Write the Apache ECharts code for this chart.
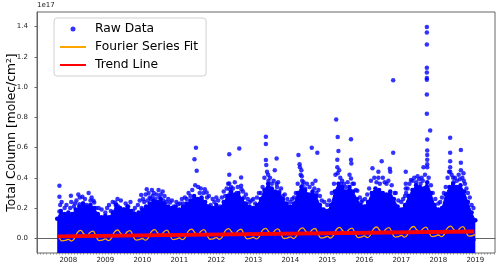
<!DOCTYPE html>
<html><head><meta charset="utf-8">
<script src="https://cdn.jsdelivr.net/npm/echarts@6/dist/echarts.min.js"></script>
<style>html,body{margin:0;padding:0;background:#fff}#c{width:500px;height:268px}</style>
</head><body><div id="c"></div>
<script>
// ---- tick labels ----
const yearTicks = [2008, 2009, 2010, 2011, 2012, 2013, 2014, 2015, 2016, 2017, 2018, 2019];
const yTickVals = [0, 0.2, 0.4, 0.6, 0.8, 1.0, 1.2, 1.4];

// ---- raw data: isolated points above the dense cloud (x: decimal year, y: 1e17 molec/cm2) ----
const rawT = [
  2007.76, 2007.76, 2007.76, 2007.78, 2007.90, 2008.07, 2008.08, 2008.15, 2008.22, 2008.30, 2008.31, 2008.38, 2008.40, 2008.50, 2008.60, 2008.68, 2008.70, 2008.75,
  2009.00, 2009.15, 2009.27, 2009.28, 2009.30, 2009.35, 2009.50, 2009.60, 2009.62, 2009.75, 2009.97, 2009.98,
  2010.05, 2010.12, 2010.14, 2010.20, 2010.26, 2010.28, 2010.35, 2010.44, 2010.46, 2010.55, 2010.57, 2010.65, 2010.75, 2010.85, 2010.97,
  2011.10, 2011.20, 2011.30, 2011.41, 2011.45, 2011.47, 2011.51, 2011.55, 2011.60, 2011.69, 2011.74, 2011.75, 2011.85,
  2012.00, 2012.10, 2012.24, 2012.35, 2012.35, 2012.35, 2012.36, 2012.36, 2012.45, 2012.55, 2012.62, 2012.67, 2012.67, 2012.68, 2012.75, 2012.90,
  2013.05, 2013.20, 2013.34, 2013.34, 2013.34, 2013.35, 2013.40, 2013.41, 2013.50, 2013.63, 2013.63, 2013.64, 2013.70, 2013.80,
  2014.00, 2014.10, 2014.22, 2014.25, 2014.26, 2014.30, 2014.31, 2014.32, 2014.33, 2014.40, 2014.58, 2014.65, 2014.71, 2014.73, 2014.85,
  2015.00, 2015.24, 2015.28, 2015.30, 2015.27, 2015.27, 2015.28, 2015.35, 2015.36, 2015.50, 2015.64, 2015.64, 2015.65, 2015.64, 2015.68, 2015.81, 2015.95,
  2016.22, 2016.38, 2016.38, 2016.47, 2016.55, 2016.69, 2016.70, 2016.78, 2016.78, 2016.85,
  2017.00, 2017.12, 2017.12, 2017.12, 2017.13, 2017.26, 2017.44, 2017.55, 2017.60,
  2017.69, 2017.69, 2017.69, 2017.69, 2017.69, 2017.69, 2017.69, 2017.69, 2017.69,
  2017.70, 2017.70, 2017.70, 2017.70, 2017.70, 2017.70, 2017.78, 2017.85,
  2018.00, 2018.15, 2018.32, 2018.32, 2018.32, 2018.32, 2018.32, 2018.40, 2018.41, 2018.50, 2018.61, 2018.61, 2018.61, 2018.68, 2018.69, 2018.80, 2018.90
];
const rawV = [
  0.347, 0.275, 0.178, 0.22, 0.20, 0.281, 0.24, 0.21, 0.25, 0.226, 0.27, 0.275, 0.23, 0.22, 0.25, 0.248, 0.237, 0.20,
  0.17, 0.18, 0.237, 0.22, 0.20, 0.21, 0.19, 0.19, 0.21, 0.18, 0.286, 0.20,
  0.24, 0.325, 0.25, 0.27, 0.319, 0.28, 0.26, 0.319, 0.27, 0.31, 0.25, 0.24, 0.237, 0.21, 0.226,
  0.23, 0.26, 0.28, 0.523, 0.598, 0.446, 0.34, 0.30, 0.26, 0.325, 0.303, 0.27, 0.22,
  0.27, 0.21, 0.28, 0.556, 0.42, 0.363, 0.325, 0.292, 0.33, 0.30, 0.594, 0.402, 0.347, 0.325, 0.27, 0.24,
  0.23, 0.30, 0.671, 0.623, 0.517, 0.484, 0.42, 0.38, 0.36, 0.528, 0.36, 0.34, 0.31, 0.28,
  0.24, 0.27, 0.55, 0.49, 0.47, 0.45, 0.41, 0.38, 0.35, 0.33, 0.598, 0.33, 0.30, 0.565, 0.25,
  0.22, 0.785, 0.67, 0.578, 0.52, 0.47, 0.43, 0.40, 0.36, 0.34, 0.655, 0.52, 0.495, 0.396, 0.36, 0.315, 0.25,
  0.464, 0.44, 0.40, 0.51, 0.37, 0.46, 0.44, 1.045, 0.565, 0.30,
  0.24, 0.44, 0.36, 0.33, 0.30, 0.385, 0.41, 0.40, 0.47,
  1.397, 1.360, 1.282, 1.127, 1.096, 1.060, 1.049, 0.950, 0.823,
  0.653, 0.58, 0.55, 0.52, 0.49, 0.47, 0.713, 0.30,
  0.23, 0.30, 0.664, 0.565, 0.51, 0.47, 0.44, 0.40, 0.37, 0.38, 0.583, 0.50, 0.45, 0.43, 0.38, 0.30, 0.22
];

// ---- raw data: scattered points just above the dense cloud ----
const speckT = [
  2007.82, 2007.95, 2008.05, 2008.18, 2008.27, 2008.45, 2008.55, 2008.63, 2008.82, 2008.90,
  2009.05, 2009.10, 2009.20, 2009.33, 2009.42, 2009.55, 2009.68, 2009.80, 2009.88, 2009.93,
  2010.02, 2010.09, 2010.17, 2010.23, 2010.31, 2010.39, 2010.50, 2010.60, 2010.70, 2010.80, 2010.92,
  2011.02, 2011.07, 2011.15, 2011.25, 2011.35, 2011.43, 2011.58, 2011.65, 2011.80, 2011.90, 2011.95,
  2012.05, 2012.15, 2012.20, 2012.28, 2012.32, 2012.40, 2012.50, 2012.58, 2012.72, 2012.80, 2012.85, 2012.95,
  2013.00, 2013.10, 2013.15, 2013.25, 2013.30, 2013.37, 2013.45, 2013.55, 2013.58, 2013.67, 2013.75, 2013.85, 2013.92,
  2014.05, 2014.15, 2014.20, 2014.28, 2014.36, 2014.45, 2014.52, 2014.60, 2014.68, 2014.76, 2014.80, 2014.92,
  2015.05, 2015.12, 2015.18, 2015.22, 2015.32, 2015.40, 2015.45, 2015.55, 2015.60, 2015.72, 2015.77, 2015.88, 2015.92,
  2016.02, 2016.08, 2016.13, 2016.18, 2016.27, 2016.33, 2016.42, 2016.50, 2016.60, 2016.65, 2016.74, 2016.82, 2016.92,
  2017.05, 2017.10, 2017.17, 2017.22, 2017.30, 2017.35, 2017.40, 2017.48, 2017.52, 2017.58, 2017.64, 2017.74, 2017.80, 2017.92,
  2018.05, 2018.10, 2018.20, 2018.25, 2018.29, 2018.36, 2018.45, 2018.55, 2018.58, 2018.65, 2018.72, 2018.76, 2018.85, 2018.95
];
const speckV = [
  0.24, 0.22, 0.20, 0.23, 0.29, 0.26, 0.30, 0.27, 0.20, 0.19,
  0.20, 0.22, 0.24, 0.26, 0.25, 0.23, 0.24, 0.20, 0.22, 0.25,
  0.26, 0.29, 0.30, 0.26, 0.30, 0.29, 0.29, 0.28, 0.26, 0.25, 0.24,
  0.23, 0.26, 0.27, 0.30, 0.32, 0.35, 0.33, 0.30, 0.28, 0.26, 0.24,
  0.25, 0.27, 0.31, 0.33, 0.36, 0.34, 0.37, 0.34, 0.31, 0.29, 0.26, 0.25,
  0.26, 0.27, 0.30, 0.34, 0.40, 0.44, 0.40, 0.38, 0.45, 0.37, 0.33, 0.29, 0.26,
  0.26, 0.30, 0.36, 0.42, 0.37, 0.36, 0.34, 0.36, 0.38, 0.32, 0.28, 0.24,
  0.25, 0.30, 0.36, 0.42, 0.45, 0.38, 0.36, 0.37, 0.42, 0.36, 0.32, 0.27, 0.24,
  0.26, 0.29, 0.33, 0.38, 0.40, 0.37, 0.36, 0.40, 0.36, 0.38, 0.35, 0.30, 0.25,
  0.26, 0.28, 0.33, 0.36, 0.38, 0.40, 0.37, 0.39, 0.36, 0.38, 0.42, 0.40, 0.35, 0.26,
  0.24, 0.27, 0.34, 0.40, 0.44, 0.42, 0.40, 0.42, 0.39, 0.40, 0.36, 0.33, 0.27, 0.20
];

// ---- raw data: top of the dense (overlapping) cloud, every 0.1 year from 2007.7 ----
const coreStart = 2007.7;
const coreStep = 0.1;
const coreTop = [
  0.13, 0.18, 0.16,
  0.17, 0.16, 0.19, 0.21, 0.23, 0.21, 0.22, 0.20, 0.16, 0.14,
  0.15, 0.14, 0.17, 0.22, 0.20, 0.19, 0.21, 0.18, 0.16, 0.17,
  0.19, 0.21, 0.23, 0.25, 0.24, 0.26, 0.23, 0.21, 0.20, 0.21,
  0.19, 0.21, 0.23, 0.25, 0.28, 0.26, 0.27, 0.24, 0.21, 0.20,
  0.22, 0.20, 0.24, 0.28, 0.31, 0.29, 0.30, 0.26, 0.23, 0.21,
  0.20, 0.22, 0.26, 0.32, 0.36, 0.33, 0.31, 0.30, 0.26, 0.23,
  0.21, 0.23, 0.30, 0.34, 0.32, 0.29, 0.31, 0.28, 0.22, 0.19,
  0.18, 0.22, 0.31, 0.36, 0.34, 0.31, 0.34, 0.31, 0.26, 0.22,
  0.21, 0.24, 0.30, 0.33, 0.32, 0.30, 0.29, 0.31, 0.26, 0.21,
  0.19, 0.22, 0.28, 0.32, 0.35, 0.34, 0.33, 0.37, 0.30, 0.22,
  0.19, 0.20, 0.29, 0.34, 0.36, 0.34, 0.35, 0.31, 0.24, 0.17,
  0.12
];

// ---- Fourier series fit, monthly from 2007.75 ----
const fitStart = 2007.75;
const fitVals = [
  0.011, -0.017, -0.014,
  -0.007, -0.018, -0.001, 0.040, 0.052, 0.030, 0.015, 0.038, 0.048, 0.013, -0.015, -0.012,
  -0.004, -0.015, 0.002, 0.043, 0.055, 0.033, 0.018, 0.041, 0.051, 0.016, -0.012, -0.009,
  -0.001, -0.012, 0.005, 0.046, 0.058, 0.036, 0.021, 0.044, 0.054, 0.019, -0.009, -0.006,
  0.002, -0.009, 0.008, 0.049, 0.061, 0.039, 0.024, 0.047, 0.057, 0.022, -0.006, -0.003,
  0.005, -0.006, 0.011, 0.052, 0.064, 0.042, 0.027, 0.050, 0.060, 0.025, -0.003, 0.000,
  0.007, -0.004, 0.013, 0.054, 0.066, 0.044, 0.029, 0.052, 0.062, 0.027, -0.001, 0.002,
  0.010, -0.001, 0.016, 0.057, 0.069, 0.047, 0.032, 0.055, 0.065, 0.030, 0.002, 0.005,
  0.013, 0.002, 0.019, 0.060, 0.072, 0.050, 0.035, 0.058, 0.068, 0.033, 0.005, 0.008,
  0.016, 0.005, 0.022, 0.063, 0.075, 0.053, 0.038, 0.061, 0.071, 0.036, 0.008, 0.011,
  0.019, 0.008, 0.025, 0.066, 0.078, 0.056, 0.041, 0.064, 0.074, 0.039, 0.011, 0.014,
  0.022, 0.011, 0.028, 0.069, 0.081, 0.059, 0.044, 0.067, 0.077, 0.042, 0.014, 0.017,
  0.024
];

// ---- linear trend ----
const trendT = [2007.72, 2018.97];
const trendV = [0.013, 0.045];

// ---- build series data ----
const X_MIN = 2007.154, X_MAX = 2019.532, Y_MIN = -0.097, Y_MAX = 1.496;
const raw = rawT.map((t, i) => [t, rawV[i]]).concat(speckT.map((t, i) => [t, speckV[i]]));
const core = coreTop.map((v, i) => [+(coreStart + i * coreStep).toFixed(2), v]);
const fit = fitVals.map((v, i) => [fitStart + i / 12, v]);
const trend = trendT.map((t, i) => [t, trendV[i]]);
const monthTicks = [];
for (let y = 2007; y <= 2019; y++) for (let m = 0; m < 12; m++) {
  const t = y + m / 12; if (t > X_MIN && t < X_MAX) monthTicks.push(t);
}

const FONT = 'DejaVu Sans';
const AX = '#666';
const chart = echarts.init(document.getElementById('c'), null, {renderer: 'canvas'});
chart.setOption({
  animation: false,
  grid: {left: 37, right: 5, top: 12, bottom: 15, show: true, borderColor: AX, borderWidth: 1, containLabel: false, outerBoundsMode: 'none'},
  legend: {
    orient: 'vertical', left: 54, top: 18, padding: [4, 8, 4, 5], itemGap: 4,
    itemWidth: 26, itemHeight: 5, selectedMode: false,
    borderColor: '#d0d0d0', borderWidth: 1, borderRadius: 3, backgroundColor: 'rgba(255,255,255,0.85)',
    textStyle: {fontSize: 12.3, fontFamily: FONT, color: '#000', lineHeight: 14, padding: [0, 0, 0, 4]},
    data: [
      {name: 'Raw Data', icon: 'circle'},
      {name: 'Fourier Series Fit', itemStyle: {opacity: 0}},
      {name: 'Trend Line', itemStyle: {opacity: 0}}
    ]
  },
  graphic: [{type: 'text', left: 37, top: 2, style: {text: '1e17', fontSize: 7, fill: '#222', fontFamily: FONT}}],
  xAxis: [{
    type: 'value', min: X_MIN, max: X_MAX,
    axisLine: {show: true, lineStyle: {color: AX, width: 1}},
    axisTick: {show: true, customValues: yearTicks, length: 2.5, lineStyle: {color: AX}},
    axisLabel: {customValues: yearTicks, fontSize: 7, margin: 4, color: '#222', fontFamily: FONT, formatter: v => String(v)},
    splitLine: {show: false}
  }, {
    type: 'value', position: 'bottom', min: X_MIN, max: X_MAX,
    axisLine: {show: false},
    axisTick: {show: true, customValues: monthTicks, length: 1.5, lineStyle: {color: '#888'}},
    axisLabel: {show: false},
    splitLine: {show: false}
  }],
  yAxis: {
    type: 'value', min: Y_MIN, max: Y_MAX,
    name: 'Total Column [molec/cm²]', nameLocation: 'middle', nameRotate: 90, nameGap: 19, nameMoveOverlap: false,
    nameTextStyle: {fontSize: 12.3, fontFamily: FONT, color: '#000'},
    axisLine: {show: true, lineStyle: {color: AX, width: 1}},
    axisTick: {show: true, customValues: yTickVals, length: 2.5, lineStyle: {color: AX}},
    axisLabel: {customValues: yTickVals, fontSize: 7, margin: 9, color: '#222', fontFamily: FONT, formatter: v => v.toFixed(1)},
    splitLine: {show: false}
  },
  series: [
    {name: 'Raw Data', type: 'scatter', data: raw, symbol: 'circle', symbolSize: 4.5,
     itemStyle: {color: '#0000ff'}, xAxisIndex: 0},
    {name: 'Raw Data', type: 'line', data: core, smooth: false, showSymbol: true, symbol: 'circle', symbolSize: 4.5,
     itemStyle: {color: '#0000ff'}, lineStyle: {color: '#0000ff', width: 1},
     areaStyle: {color: '#0000ff', opacity: 1, origin: 'start'}, xAxisIndex: 0},
    {name: 'Fourier Series Fit', type: 'line', data: fit, smooth: true, symbol: 'none', showSymbol: false,
     lineStyle: {color: '#ffa500', width: 1.3}, itemStyle: {color: '#ffa500'}, xAxisIndex: 0},
    {name: 'Trend Line', type: 'line', data: trend, symbol: 'none', showSymbol: false,
     lineStyle: {color: '#ff0000', width: 3.8}, itemStyle: {color: '#ff0000'}, xAxisIndex: 0}
  ]
});
</script></body></html>
